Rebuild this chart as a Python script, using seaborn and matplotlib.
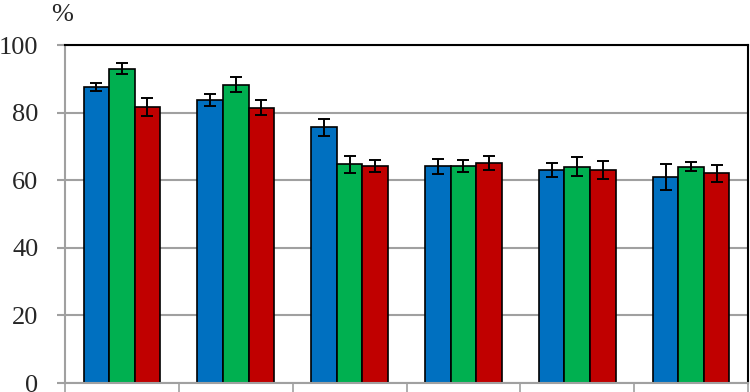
import numpy as np
import pandas as pd
import matplotlib
matplotlib.use('Agg')
import matplotlib.pyplot as plt
import seaborn as sns

# ========== data ==========
groups = ['1', '2', '3', '4', '5', '6']
series = ['A', 'B', 'C']
vals_a = [87.5, 83.7, 75.6, 64.1, 63.0, 60.9]
vals_b = [93.0, 88.2, 64.7, 64.1, 64.0, 64.0]
vals_c = [81.7, 81.5, 64.1, 65.2, 63.0, 62.0]
err_a = [1.2, 1.7, 2.4, 2.2, 2.0, 3.8]
err_b = [1.6, 2.2, 2.5, 1.8, 2.8, 1.3]
err_c = [2.7, 2.1, 1.8, 2.1, 2.7, 2.5]
yticks = [0, 20, 40, 60, 80, 100]
colors = ['#0070C0', '#00B050', '#C00000']

df = pd.DataFrame({
    'group': groups * 3,
    'series': [s for s in series for _ in groups],
    'value': vals_a + vals_b + vals_c,
})
errs = [err_a, err_b, err_c]

sns.set_style('white')
plt.rcParams['font.family'] = 'serif'
plt.rcParams['font.serif'] = ['Liberation Serif', 'Times New Roman', 'DejaVu Serif']

fig = plt.figure(figsize=(7.5, 3.92), dpi=100)
ax = fig.add_axes([65 / 750, 9 / 392, 683 / 750, 338 / 392])

sns.barplot(data=df, x='group', y='value', hue='series', palette=colors,
            saturation=1, width=0.674, errorbar=None, edgecolor='black',
            linewidth=1.2, legend=False, ax=ax, zorder=2)

# error bars on top of each bar
for cont, e in zip(ax.containers, errs):
    xs = [p.get_x() + p.get_width() / 2 for p in cont.patches]
    hs = [p.get_height() for p in cont.patches]
    ax.errorbar(xs, hs, yerr=e, fmt='none', ecolor='black', elinewidth=1.4,
                capsize=4.5, capthick=1.4, zorder=3)

ax.set_xlim(-0.5, len(groups) - 0.5)
ax.set_ylim(0, 100)
ax.set_yticks(yticks)
ax.set_yticklabels([str(t) for t in yticks], fontsize=19)
ax.set_xticks(np.arange(-0.5, len(groups), 1.0))
ax.set_xticklabels([])
ax.set_xlabel('')
ax.set_ylabel('')

ax.yaxis.grid(True, color='#a0a0a0', linewidth=1.5, zorder=0)
ax.set_axisbelow(True)
ax.tick_params(axis='y', direction='out', length=6, width=1.5, color='#a0a0a0', pad=13, left=True)
ax.tick_params(axis='x', direction='out', length=7, width=1.2, color='#a0a0a0', bottom=True)

for side in ['left', 'bottom']:
    ax.spines[side].set_color('#a0a0a0')
    ax.spines[side].set_linewidth(1.5)
for side in ['top', 'right']:
    ax.spines[side].set_color('black')
    ax.spines[side].set_linewidth(1.5)

fig.text(51 / 750, 1 - 15 / 392, '%', fontsize=19, ha='left', va='center')

fig.savefig('out.png', dpi=100)
